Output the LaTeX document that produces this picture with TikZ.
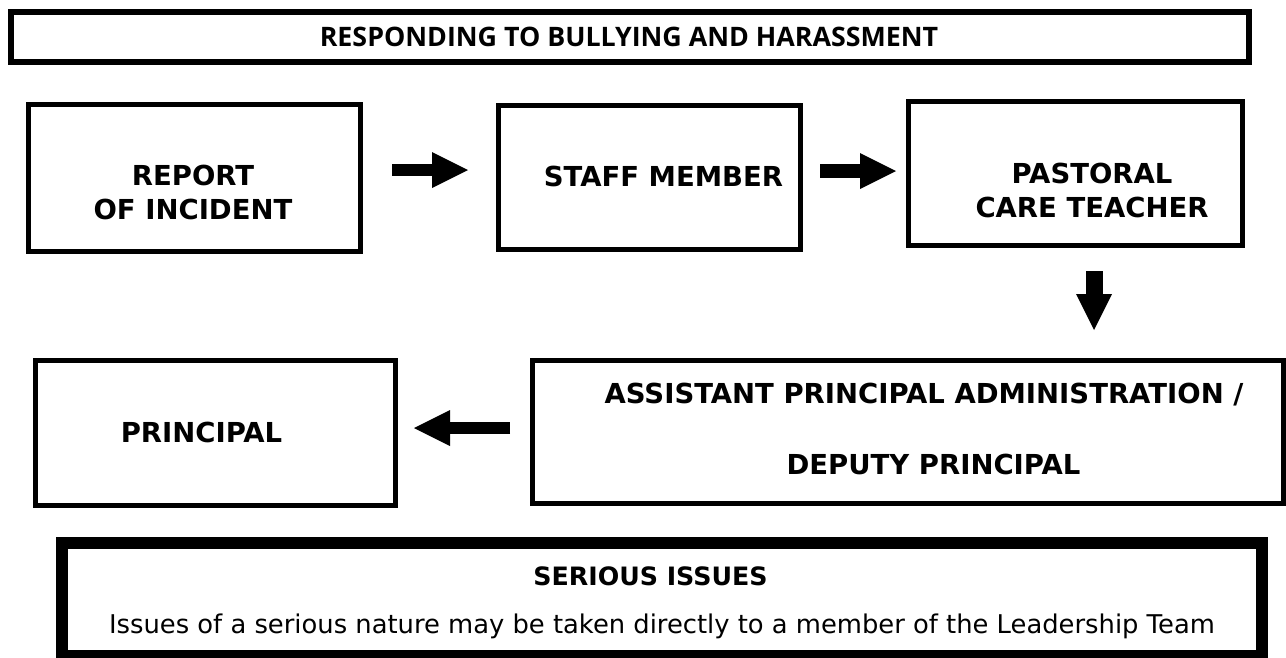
\documentclass[tikz,border=0pt]{standalone}
\usepackage{fontspec}
\setmainfont{DejaVu Sans}
\newfontfamily\titlefont{Open Sans}
\usetikzlibrary{arrows.meta,calc}
\begin{document}
\begin{tikzpicture}[x=1pt,y=-1pt,
  box/.style={draw, line width=5pt, outer sep=0pt, inner sep=0pt},
  lbl/.style={font=\fontsize{27.5}{34}\selectfont\bfseries, align=center, inner sep=0pt},
  fatarrow/.style={line width=#1, -{Triangle[length=36pt,width=36pt,line width=0pt]}},
]
\fill[white] (0,0) rectangle (1286,657);
\useasboundingbox (0,0) rectangle (1286,657);

% heading bar
\node[box, line width=6pt, minimum width=1238pt, minimum height=49.5pt] (title) at (630,36.75) {};
\node[anchor=base, inner sep=0pt, font=\titlefont\bfseries\fontsize{26.8}{30}\selectfont] (titletext) at (629,46.5) {RESPONDING TO BULLYING AND HARASSMENT};

% first row
\node[box, minimum width=332.5pt, minimum height=146.5pt] (report) at (194.25,177.75) {};
\node[lbl] (reporttext) at (193,192.5) {REPORT\\OF INCIDENT};

\node[box, minimum width=302.5pt, minimum height=144pt] (staff) at (649.25,177.5) {};
\node[lbl, anchor=base] (stafftext) at (663.5,186) {STAFF MEMBER};

\node[box, minimum width=334.5pt, minimum height=144pt] (pastoral) at (1075.25,173.5) {};
\node[lbl] (pastoraltext) at (1092,190) {PASTORAL\\CARE TEACHER};

% second row
\node[box, minimum width=360pt, minimum height=145pt] (principal) at (215.5,433) {};
\node[lbl, anchor=base] (principaltext) at (201.5,442) {PRINCIPAL};

\node[box, minimum width=751pt, minimum height=143pt] (assistant) at (907.5,432) {};
\node[lbl, anchor=base] (assistanttexta) at (924,403) {ASSISTANT PRINCIPAL ADMINISTRATION /};
\node[lbl, anchor=base] (assistanttextb) at (933.5,474) {DEPUTY PRINCIPAL};

% note box
\node[box, line width=12pt, minimum width=1200pt, minimum height=113pt] (serious) at (662,599.5) {};
\node[anchor=base, inner sep=0pt, font=\fontsize{25.3}{30}\selectfont\bfseries] (serioushead) at (650.5,585) {SERIOUS ISSUES};
\node[anchor=base, inner sep=0pt, font=\fontsize{25.8}{30}\selectfont] (seriousbody) at (662,633) {Issues of a serious nature may be taken directly to a member of the Leadership Team};

% connectors
\draw[fatarrow=12pt] ($(report.east)+(31.5,-7.75)$) -- ($(staff.west)+(-30,-7.5)$);
\draw[fatarrow=14pt] ($(staff.east)+(19.5,-6.5)$) -- ($(pastoral.west)+(-12,-2.5)$);
\coordinate (downstart) at ($(pastoral.south)+(18.75,25.5)$);
\coordinate (downend) at (downstart |- assistant.north);
\draw[fatarrow=17pt] (downstart) -- ([yshift=30.5pt]downend);
\draw[fatarrow=12pt] ($(assistant.west)+(-22,-4)$) -- ($(principal.east)+(18.5,-5)$);
\end{tikzpicture}
\end{document}
